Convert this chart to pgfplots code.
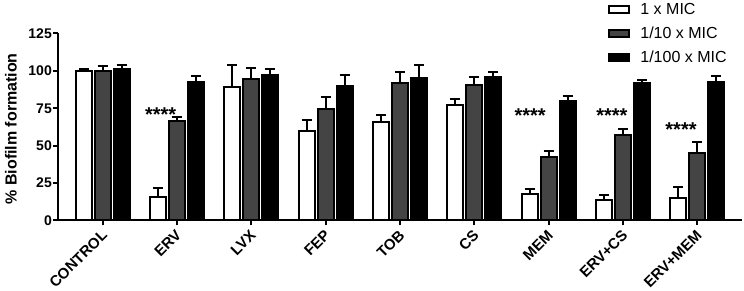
\documentclass[border=0pt]{standalone}
\usepackage{fontspec}
\setmainfont{Liberation Sans}
\usepackage{pgfplots}
\pgfplotsset{compat=1.18}
\usepackage{pgfplotstable}

\pgfplotstableread{
x w we g ge b be
0 100 1.5 100 3.5 101.3 2.5
1 15.5 6 66.5 2.5 92.5 3.8
2 89.5 14.5 94.7 7.5 97.4 3.8
3 59.7 7.5 74.8 7.5 90 7.4
4 65.7 4.8 91.6 7.8 95.4 8.3
5 77.5 3.7 90.3 5.7 96 3
6 17.6 3.3 42.2 4 80 3
7 13.4 3.6 57.3 3.7 91.6 2.3
8 14.8 7.5 44.9 7.5 92.5 3.8
}\data

\definecolor{bargray}{RGB}{68,68,68}

\pgfplotsset{
  myerr/.style={error bars/.cd, y dir=plus, y explicit, error mark=-,
    error bar style={line width=2pt, black, solid},
    error mark options={rotate=90, line width=2pt, black, solid, mark size=5pt}},
}

\begin{document}
\begin{tikzpicture}
\begin{axis}[
  at={(0,0)}, anchor=south west,
  scale only axis, width=684pt, height=187pt,
  xmin=-0.6, xmax=8.6, ymin=0, ymax=125,
  axis x line*=bottom, axis y line*=left,
  axis line style={line width=2pt, black},
  ytick={0,25,...,125},
  xtick={0,...,8},
  xticklabels={CONTROL,ERV,LVX,FEP,TOB,CS,MEM,ERV+CS,ERV+MEM},
  tick align=outside, major tick length=5pt,
  tick style={line width=2pt, black},
  /pgf/number format/assume math mode=true,
  yticklabel style={font=\bfseries\fontsize{14}{17}\selectfont, inner sep=1pt},
  xticklabel style={font=\bfseries\fontsize{15}{18}\selectfont,
    xshift=-2pt, yshift=-2.5pt, rotate=45, anchor=north east, inner sep=0.5pt},
  ylabel={\% Biofilm formation},
  every axis y label/.style={at={(axis description cs:-0.0687,0.49)}, rotate=90, anchor=center,
    font=\bfseries\fontsize{16}{19}\selectfont},
  ybar, bar width=16pt, ybar=3pt,
  legend style={at={(0.80,1.185)}, anchor=north west, draw=none, fill=none,
    font=\fontsize{16}{19}\selectfont, row sep=7pt,
    /tikz/every odd column/.append style={column sep=8pt}},
  legend cell align=left,
  clip=false,
]
\addplot[fill=white, draw=black, line width=2pt, legend image code/.code={\draw[line width=2pt, draw=black, fill=white] (0pt,-3.5pt) rectangle (20pt,3.5pt);}, myerr]
  table[x=x, y=w, y error=we] {\data};
\addplot[fill=bargray, draw=black, line width=2pt, legend image code/.code={\draw[line width=2pt, draw=black, fill=bargray] (0pt,-3.5pt) rectangle (20pt,3.5pt);}, myerr]
  table[x=x, y=g, y error=ge] {\data};
\addplot[fill=black, draw=black, line width=2pt, legend image code/.code={\draw[line width=2pt, draw=black, fill=black] (0pt,-3.5pt) rectangle (20pt,3.5pt);}, myerr]
  table[x=x, y=b, y error=be] {\data};
\legend{1 x MIC, 1/10 x MIC, 1/100 x MIC}
\node[font=\bfseries\fontsize{20}{20}\selectfont] at (axis cs:0.78,71) {****};
\node[font=\bfseries\fontsize{20}{20}\selectfont] at (axis cs:5.75,69.8) {****};
\node[font=\bfseries\fontsize{20}{20}\selectfont] at (axis cs:6.85,69.8) {****};
\node[font=\bfseries\fontsize{20}{20}\selectfont] at (axis cs:7.78,60.5) {****};
\end{axis}
\pgfresetboundingbox
\path[use as bounding box] (-58pt,-70.5pt) rectangle (686pt,220.5pt);
\end{tikzpicture}
\end{document}
